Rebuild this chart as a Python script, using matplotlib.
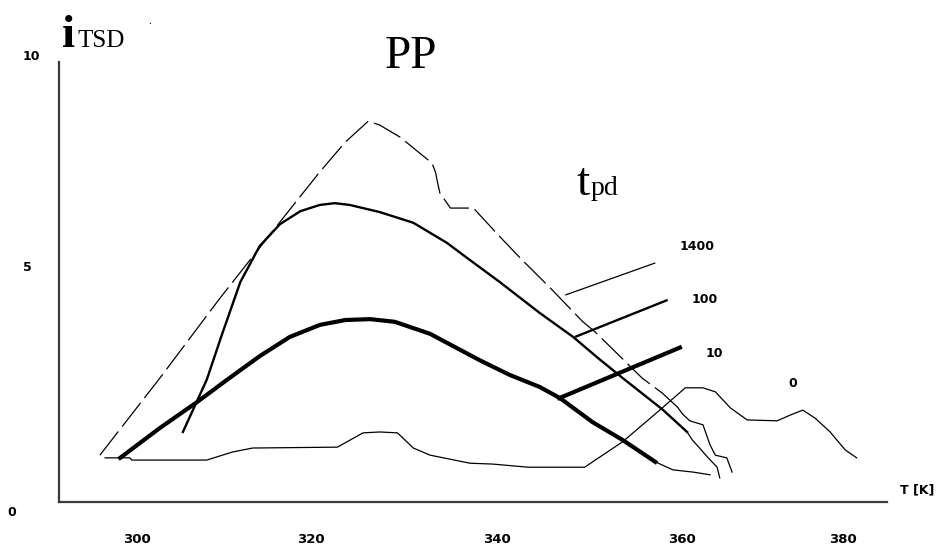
import matplotlib

matplotlib.use("Agg")

import matplotlib.pyplot as plt

# thermally stimulated discharge current of PP, one curve per storage time t_pd
T_1400 = [295.8, 302.6, 309.4, 316.2, 320.7, 323.6, 326.2, 327.5, 329.8, 333.4, 333.8,
          334.1, 334.3, 335.5, 338.1, 340.9, 343.4, 346.8, 350.5, 351.9, 357.2, 359.5, 361.2]
I_1400 = [1.05, 2.78, 4.57, 6.28, 7.40, 8.07, 8.54, 8.45, 8.18, 7.60, 7.40,
          7.11, 6.93, 6.59, 6.59, 5.99, 5.47, 4.80, 4.04, 3.81, 2.78, 2.44, 2.13]
T_1400_TAIL = [361.2, 361.8, 362.6, 364.1, 364.9, 365.5, 366.8, 367.4]
I_1400_TAIL = [2.13, 1.97, 1.82, 1.73, 1.28, 1.05, 0.99, 0.67]

T_100 = [305.2, 307.9, 309.6, 311.7, 313.9, 316.2, 318.5, 320.7, 322.4, 324.1, 327.5,
         331.3, 335.1, 337.4, 341.1, 345.6, 349.4, 352.2, 355.0, 359.6, 362.3]
I_100 = [1.57, 2.74, 3.74, 4.93, 5.74, 6.23, 6.52, 6.66, 6.70, 6.66, 6.50,
         6.26, 5.81, 5.47, 4.93, 4.24, 3.70, 3.23, 2.78, 2.06, 1.57]
T_100_TAIL = [362.3, 362.9, 363.8, 364.6, 365.7, 366.0]
I_100_TAIL = [1.57, 1.39, 1.19, 1.01, 0.78, 0.54]

T_10 = [298.1, 302.6, 306.8, 310.2, 313.9, 317.3, 320.7, 323.6, 326.4, 329.2, 333.2,
        338.8, 342.2, 345.6, 347.9, 351.6, 355.0, 358.7]
I_10 = [0.99, 1.66, 2.24, 2.74, 3.27, 3.70, 3.97, 4.08, 4.10, 4.04, 3.77,
        3.18, 2.85, 2.58, 2.33, 1.79, 1.39, 0.90]
T_10_TAIL = [358.7, 360.7, 363.0, 364.9]
I_10_TAIL = [0.90, 0.72, 0.67, 0.61]

T_0 = [296.4, 299.2, 299.4, 307.9, 310.8, 313.1, 322.7, 325.6, 327.5, 329.5, 331.3,
       333.2, 337.7, 340.3, 344.3, 350.7, 351.6, 355.0, 359.2, 362.1, 364.1, 365.5,
       367.2, 369.1, 372.5, 374.0, 375.4, 376.8, 378.5, 380.2, 381.5]
I_0 = [0.99, 0.99, 0.94, 0.94, 1.12, 1.21, 1.23, 1.55, 1.57, 1.55, 1.21,
       1.05, 0.87, 0.85, 0.78, 0.78, 0.90, 1.35, 2.06, 2.56, 2.56, 2.47,
       2.11, 1.84, 1.82, 1.95, 2.06, 1.88, 1.57, 1.17, 0.99]

# leader lines from each curve to its t_pd label
LEADER_T = {"1400": [348.5, 358.7], "100": [349.6, 360.1], "10": [347.6, 361.7]}
LEADER_I = {"1400": [4.64, 5.36], "100": [3.70, 4.53], "10": [2.31, 3.48]}
LABEL_T = {"1400": 363.4, "100": 364.3, "10": 365.4, "0": 374.3}
LABEL_I = {"1400": 5.72, "100": 4.53, "10": 3.34, "0": 2.65}

XTICK_POS = [300, 319.7, 340.8, 361.7, 380]
XTICK_LABELS = ["300", "320", "340", "360", "380"]

W, H = 938, 547


def px(x, y):
    return x / W, 1 - y / H


fig = plt.figure(figsize=(W / 100, H / 100), dpi=100)
ax = fig.add_axes([59 / W, 45 / H, 828 / W, 440 / H])
ax.set_xlim(291.17, 384.94)
ax.set_ylim(0, 9.865)

for side in ("top", "right"):
    ax.spines[side].set_visible(False)
for side in ("left", "bottom"):
    ax.spines[side].set_color("#3c3c3c")
    ax.spines[side].set_linewidth(1.6)

ax.plot(T_1400, I_1400, color="black", linewidth=0.9, linestyle=(0, (24, 5)))
ax.plot(T_1400_TAIL, I_1400_TAIL, color="black", linewidth=0.9)
ax.plot(T_100, I_100, color="black", linewidth=1.7)
ax.plot(T_100_TAIL, I_100_TAIL, color="black", linewidth=0.9)
ax.plot(T_10, I_10, color="black", linewidth=3.0)
ax.plot(T_10_TAIL, I_10_TAIL, color="black", linewidth=0.9)
ax.plot(T_0, I_0, color="black", linewidth=0.9)

widths = {"1400": 0.9, "100": 1.7, "10": 3.0}
for key, lw in widths.items():
    ax.plot(LEADER_T[key], LEADER_I[key], color="black", linewidth=lw,
            solid_capstyle="butt")
for key in LABEL_T:
    ax.text(LABEL_T[key], LABEL_I[key], key, ha="center", va="center",
            fontsize=9, fontweight="bold", family="DejaVu Sans")

ax.set_yticks([])
ax.set_xticks(XTICK_POS, XTICK_LABELS, fontsize=9.5, fontweight="bold",
              family="DejaVu Sans")
ax.tick_params(axis="x", length=0, pad=22)

# y tick labels sit at uneven spots in the original
for label, (x, y) in zip(["10", "5", "0"], [(31, 56), (27, 268), (12, 513)]):
    fig.text(*px(x, y), label, ha="center", va="center", fontsize=9,
             fontweight="bold", family="DejaVu Sans")

fig.text(*px(917, 490), "T [K]", ha="center", va="center", fontsize=9,
         fontweight="bold", family="DejaVu Sans")

serif = "Liberation Serif"
fig.text(*px(62, 47), "i", ha="left", va="baseline", fontsize=34,
         fontweight="bold", family=serif)
fig.text(*px(77, 47), "TSD", ha="left", va="baseline", fontsize=18, family=serif)
fig.text(*px(150, 24), ".", ha="center", va="baseline", fontsize=8, family=serif)
fig.text(*px(411, 68), "PP", ha="center", va="baseline", fontsize=34, family=serif)
fig.text(*px(576, 195), "t", ha="left", va="baseline", fontsize=34, family=serif)
fig.text(*px(591, 195), "pd", ha="left", va="baseline", fontsize=20, family=serif)

fig.savefig("out.png", dpi=100)
